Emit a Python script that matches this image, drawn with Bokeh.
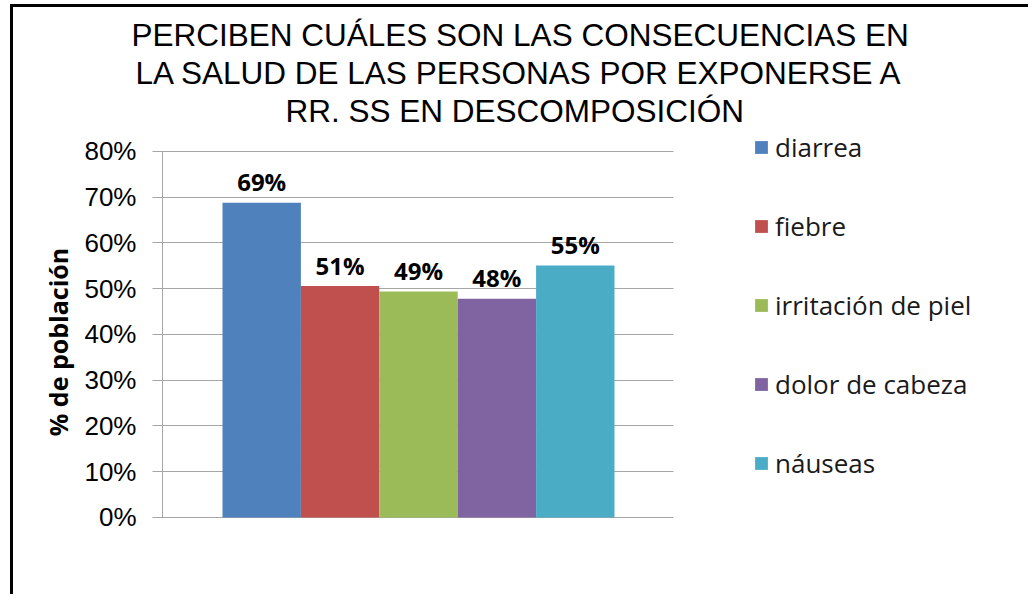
from bokeh.plotting import figure
from bokeh.models import (ColumnDataSource, Range1d, NumeralTickFormatter,
                          FixedTicker, Title, Legend, LegendItem)
from bokeh.embed import file_html
from bokeh.resources import INLINE
from bokeh.core.properties import value

# ---- data ----
categories = ["diarrea", "fiebre", "irritación de piel", "dolor de cabeza", "náuseas"]
values = [0.688, 0.506, 0.494, 0.478, 0.551]
colors = ["#4F81BD", "#C0504D", "#9BBB59", "#8064A2", "#4BACC6"]
y_ticks = [0.0, 0.1, 0.2, 0.3, 0.4, 0.5, 0.6, 0.7, 0.8]
title_lines = ["PERCIBEN CUÁLES SON LAS CONSECUENCIAS EN",
               "LA SALUD DE LAS PERSONAS POR EXPONERSE A",
               "RR. SS EN DESCOMPOSICIÓN"]
y_label = "% de población"

x_pos = list(range(len(categories)))
labels = [f"{round(v * 100)}%" for v in values]
src = ColumnDataSource(dict(x=x_pos, cat=categories, top=values, color=colors, label=labels))

W, H = 1018, 590
p = figure(width=W, height=H, output_backend="svg", toolbar_location=None,
           title_location=None,
           x_range=Range1d(-1.2653, 9.819),
           y_range=Range1d(-0.08306, 0.85027),
           min_border_left=149, min_border_top=121, min_border_right=0,
           min_border_bottom=42)
p.margin = (4, 0, 0, 10)
p.styles = {"border-left": "3px solid #000", "border-top": "3px solid #000"}
p.outline_line_color = None
p.background_fill_color = "white"
p.border_fill_color = "white"

r = p.vbar(x="x", top="top", bottom=0, width=1.0, fill_color="color", line_color=None,
           source=src, level="annotation")

p.text(x="x", y="top", text="label", source=src, text_align="center",
       text_baseline="alphabetic", y_offset=-21,
       text_font=value("Open Sans"), text_font_style="bold", text_font_size="24px",
       text_color="#000000", level="annotation")

# axes: x axis hidden; y-axis ticks extended inward serve as the horizontal gridlines
p.xaxis.visible = False
p.xgrid.grid_line_color = None
p.ygrid.grid_line_color = None

p.yaxis.ticker = FixedTicker(ticks=y_ticks)
p.yaxis.bounds = (0, 0.8)
p.yaxis.formatter = NumeralTickFormatter(format="0%")
p.yaxis.major_label_text_font = "Liberation Sans"
p.yaxis.major_label_text_font_size = "26px"
p.yaxis.major_label_text_color = "#000000"
p.yaxis.major_label_standoff = 16
p.yaxis.major_tick_out = 10
p.yaxis.major_tick_in = 511
p.yaxis.major_tick_line_color = "#A6A6A6"
p.yaxis.major_tick_line_width = 1
p.yaxis.minor_tick_line_color = None
p.yaxis.axis_line_color = "#A6A6A6"
p.yaxis.axis_label = y_label
p.yaxis.axis_label_text_font = "Open Sans"
p.yaxis.axis_label_text_font_style = "bold"
p.yaxis.axis_label_text_font_size = "25px"
p.yaxis.axis_label_text_color = "#000000"
p.yaxis.axis_label_standoff = 6

# title lines: bottom line added first (closest to the plot area)
offsets = [-31, -27, 123]
for txt, off in reversed(list(zip(title_lines, offsets))):
    p.add_layout(Title(text=txt, align="left", offset=off, standoff=0,
                       text_font="Liberation Sans", text_font_size="31.5px",
                       text_font_style="normal", text_color="#000000"), "above")

legend = Legend(items=[LegendItem(label=c, renderers=[r], index=i) for i, c in enumerate(categories)],
                location=(591, 74), orientation="vertical",
                glyph_width=16, glyph_height=16, label_height=30, spacing=43,
                label_standoff=6, padding=0, margin=0,
                label_text_font="Open Sans", label_text_font_size="26px",
                label_text_color="#1A1A1A",
                border_line_color=None, background_fill_alpha=0)
p.add_layout(legend)

open("out.html", "w").write(file_html(p, INLINE))
